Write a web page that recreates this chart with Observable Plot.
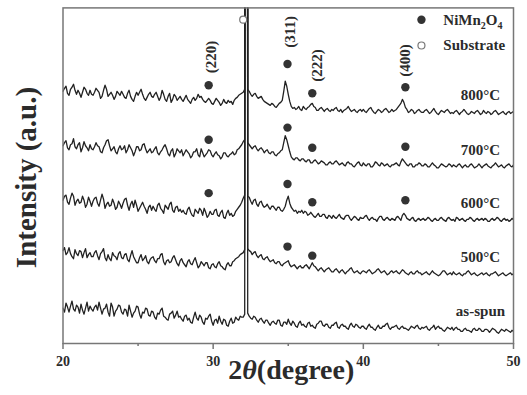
<!DOCTYPE html>
<html><head><meta charset="utf-8">
<script src="https://cdn.jsdelivr.net/npm/d3@7"></script>
<script src="https://cdn.jsdelivr.net/npm/@observablehq/plot@0.6"></script>
<style>
body{margin:0;background:#fff;}
#chart svg{display:block;}
</style>
</head><body><div id="chart"></div>
<script>
// sampling grid: 2θ from 20 to 50 in steps of 0.1 (301 points)
const twoTheta = d3.range(301).map(i => +(20 + 0.1 * i).toFixed(1));

// intensities (arbitrary units, offset traces); one row = 2 degrees
const asSpun = [
  39,35,44,40,35,41,46,38,36,42, 40,34,43,37,33,39,45,36,41,38,
  36,40,42,37,45,39,33,38,39,43, 35,31,44,40,31,36,38,42,41,35,
  33,38,37,31,42,36,30,34,36,41, 40,33,29,35,34,39,38,32,31,36,
  35,30,28,34,33,37,39,31,30,28, 27,33,34,36,29,32,36,30,31,28,
  26,31,32,27,29,25,24,30,35,29, 27,32,30,25,23,29,28,31,33,26,
  22,27,28,24,31,26,23,28,27,22, 21,26,29,24,25,30,28,27,31,30,
  30,33,3000,34,31,29,28,31,30,27, 25,28,29,26,24,27,27,24,22,25,
  26,24,23,27,27,22,21,25,25,23, 28,24,22,26,24,21,20,24,26,22,
  23,21,20,24,25,21,22,20,19,23, 24,26,26,22,21,23,23,20,19,22,
  22,24,25,20,19,22,23,21,21,19, 18,22,24,21,20,23,22,20,19,21,
  21,19,18,21,23,20,20,18,17,20, 22,19,19,21,21,23,24,20,18,20,
  20,21,22,19,18,20,21,19,19,18, 17,19,21,20,19,21,22,19,18,20,
  19,20,21,18,17,19,20,22,18,20, 21,19,19,17,16,18,20,19,18,20,
  17,19,20,18,18,16,16,18,19,17, 17,16,15,18,19,17,17,19,18,16,
  16,18,18,17,15,17,19,18,17,15, 14,16,18,17,16,18,17,16,15,17,
  16];
const t500 = [
  96,99,92,94,99,93,90,88,97,93, 91,96,95,89,94,98,89,92,94,90,
  90,94,96,91,87,93,95,98,89,86, 92,88,86,94,91,90,87,93,95,89,
  88,92,93,87,85,91,96,90,87,84, 84,89,92,86,88,91,85,83,87,89,
  90,86,84,88,88,92,93,85,82,86, 87,84,85,89,91,87,83,81,86,88,
  84,82,80,85,87,83,82,86,89,84, 79,81,85,83,81,84,84,79,78,82,
  83,80,79,83,85,81,80,78,77,82, 84,81,81,85,86,88,89,90,92,93,
  94,97,3000,98,96,95,92,94,95,91, 89,91,92,88,87,89,90,87,85,86,
  87,84,83,85,85,82,81,83,84,85, 86,82,80,81,82,80,78,80,81,79,
  79,81,82,80,78,81,84,81,80,78, 76,78,79,77,75,77,78,79,77,75,
  75,77,78,76,74,76,77,75,73,75, 76,78,79,76,74,75,76,74,73,75,
  76,75,74,76,77,75,73,74,75,77, 78,76,74,75,76,74,72,73,75,76,
  74,75,76,74,73,75,77,76,74,73, 72,74,75,73,73,75,76,74,74,72,
  73,74,75,73,72,74,76,74,73,72, 71,72,74,76,76,74,72,73,74,72,
  75,73,72,73,74,72,71,73,73,75, 76,74,72,73,74,72,71,72,73,74,
  72,73,74,72,71,73,73,74,75,73, 71,72,73,74,72,71,72,73,74,72,
  73];
const t600 = [
  146,150,151,144,142,148,153,150,141,145, 147,143,144,150,146,139,142,149,145,140,
  145,148,149,143,140,146,152,147,138,142, 144,140,141,147,143,137,139,145,142,138,
  143,147,148,141,136,142,145,139,146,141, 135,138,141,144,140,137,133,139,141,136,
  140,137,135,141,143,138,136,133,141,139, 137,142,144,136,134,139,140,135,137,134,
  136,133,132,137,139,134,131,130,137,135, 133,138,136,131,138,134,129,131,135,132,
  132,136,137,131,130,134,136,129,128,133, 136,131,133,130,131,135,137,139,141,144,
  148,151,3000,150,149,145,142,146,147,142, 140,144,145,141,139,140,142,139,137,140,
  140,138,136,139,139,136,135,137,140,146, 150,143,139,137,135,136,133,135,134,136,
  133,135,134,131,132,134,132,130,129,131, 133,130,130,132,132,129,128,131,130,128,
  131,129,128,130,132,129,128,127,130,131, 131,128,126,128,130,129,127,126,129,128,
  128,130,131,128,126,128,129,127,127,125, 128,130,130,127,126,128,129,127,126,128,
  127,126,129,130,128,126,131,133,131,128, 127,126,128,129,126,125,127,128,126,127,
  128,126,127,129,128,126,125,127,128,126, 126,128,129,127,126,125,128,129,127,126,
  127,125,129,128,126,127,128,126,125,127, 127,129,128,126,125,127,128,126,127,128,
  126,128,127,125,125,127,128,126,127,129, 128,126,125,127,128,126,127,125,126,128,
  127];
const t700 = [
  200,203,205,198,196,201,202,207,199,197, 201,203,194,198,204,200,198,195,201,197,
  196,199,203,200,199,194,193,198,201,205, 206,200,195,197,199,194,192,197,200,196,
  197,200,193,196,201,198,195,190,194,199, 199,195,196,201,202,197,193,195,197,193,
  194,197,199,193,191,194,196,199,201,197, 192,190,195,197,189,192,197,195,193,196,
  190,193,196,194,192,188,190,194,194,197, 191,189,197,193,189,191,193,196,195,191,
  189,192,194,191,190,187,189,193,193,190, 189,191,192,194,191,192,196,197,199,201,
  204,206,3000,203,201,199,197,199,200,197, 195,197,198,196,193,195,196,193,192,194,
  194,191,190,192,193,195,196,203,210,206, 200,194,189,187,186,188,188,186,185,187,
  187,185,184,186,186,183,183,185,186,184, 182,183,185,184,183,181,181,183,184,182,
  182,184,185,183,181,182,183,181,180,183, 184,182,182,180,179,181,183,184,181,180,
  183,181,180,182,182,179,179,181,184,183, 181,180,183,182,180,181,182,180,179,181,
  181,182,183,181,180,184,187,185,183,181, 180,182,182,179,179,181,181,183,182,180,
  180,182,181,179,179,181,183,181,180,178, 178,180,182,181,180,179,180,182,181,179,
  181,180,179,181,182,180,178,180,181,179, 179,181,182,180,178,179,180,182,180,178,
  180,181,182,180,179,178,180,181,183,181, 179,180,181,179,178,180,181,182,180,179,
  181];
const t800 = [
  254,257,259,252,250,256,258,261,255,251, 255,252,248,253,258,256,252,250,255,251,
  250,253,257,255,253,247,249,255,260,256, 249,251,253,250,246,249,254,252,250,254,
  251,248,247,252,255,249,246,244,249,253, 250,253,256,251,247,245,248,251,253,249,
  248,251,253,249,245,248,255,251,246,244, 249,252,243,246,251,249,245,247,249,246,
  244,247,250,246,244,242,246,248,245,247, 251,248,249,246,244,243,245,247,245,242,
  241,244,247,245,243,240,242,246,243,242, 245,243,244,241,245,247,248,250,251,252,
  253,256,3000,256,254,251,249,251,252,249, 247,248,249,246,244,243,242,241,240,242,
  241,239,238,240,242,243,245,254,264,259, 251,244,239,237,238,236,237,239,236,235,
  239,237,236,238,239,241,242,239,238,235, 235,237,238,236,234,236,237,235,234,236,
  235,237,238,235,234,236,233,235,236,237, 239,236,234,235,236,234,233,235,236,234,
  236,234,233,235,237,238,235,233,232,234, 236,235,233,234,236,237,235,233,234,236,
  234,235,236,238,240,242,246,243,238,236, 233,234,236,235,232,233,235,236,234,233,
  233,235,236,234,232,233,235,237,234,232, 231,233,235,234,233,235,236,234,232,233,
  232,234,235,233,231,233,234,236,234,232, 231,232,234,233,232,234,235,233,231,232,
  235,233,232,234,233,231,232,234,235,233, 231,232,233,234,232,231,233,234,232,233,
  234];

const traces = [asSpun, t500, t600, t700, t800];

// NiMn2O4 reflections
const hkl = ["(220)", "(311)", "(222)", "(400)"];
const hklTheta = [29.7, 34.95, 36.6, 42.8];
const hklLabelTheta = [29.85, 35.15, 36.95, 42.8];
const hklLabelY = [288, 313, 279.5, 284.5];
const dot800 = [260, 281, 252, 258];
const dot700 = [206, 218, 198, 199];
const dot600 = [153, 162, 144, 146];
const dot500 = [null, 100, 91, null];

const sampleLabels = ["800°C", "700°C", "600°C", "500°C", "as-spun"];
const sampleLabelY = [250, 196, 142.7, 89, 35.6];

const substrateTheta = 32.0, substrateY = 325;
const legendLabels = ["NiMn₂O₄", "Substrate"];
const legendY = [325, 299.4];

const xTicks = [20, 30, 40, 50];
const xMinorTicks = [25, 35, 45];

// build tables
const lineData = traces.flatMap((vals, k) => vals.map((v, i) => ({x: twoTheta[i], y: v, s: k})));
const dots = [dot800, dot700, dot600, dot500].flatMap(arr =>
  arr.map((v, i) => ({x: hklTheta[i], y: v})).filter(d => d.y != null));
const hklTable = hkl.map((t, i) => ({t, x: hklLabelTheta[i], y: hklLabelY[i]}));
const sampleTable = sampleLabels.map((t, i) => ({t, y: sampleLabelY[i]}));

const serif = "'Liberation Serif', 'Times New Roman', serif";
const ink = "#2b2b2b";

const plot = Plot.plot({
  width: 527, height: 395,
  marginLeft: 62.5, marginRight: 14, marginTop: 7.4, marginBottom: 52,
  style: {fontFamily: serif, fontWeight: "bold", fontSize: "14px", color: ink, background: "white"},
  x: {domain: [20, 50]},
  y: {domain: [3.9, 336.7], axis: null},
  marks: [
    Plot.line(lineData, {x: "x", y: "y", z: "s", stroke: "#222", strokeWidth: 1.3, clip: true}),
    Plot.frame({stroke: "#777", strokeWidth: 1.5}),
    Plot.axisX(xTicks, {tickSize: 6, tickPadding: 7, stroke: "#777", strokeWidth: 1.5, label: null, fontSize: 14}),
    Plot.axisX(xMinorTicks, {tickSize: 3, stroke: "#777", strokeWidth: 1.5, tickFormat: () => "", label: null}),
    Plot.dot(dots, {x: "x", y: "y", r: 4.2, fill: "#333"}),
    Plot.dot([0], {x: () => substrateTheta, y: () => substrateY, r: 3.5, stroke: "#777", fill: "white", strokeWidth: 1.2}),
    Plot.text(hklTable, {x: "x", y: "y", text: "t", rotate: -90, fontSize: 15, fill: ink, lineAnchor: "middle", textAnchor: "middle"}),
    Plot.text(sampleTable, {x: () => 47.8, y: "y", text: "t", fontSize: 15, fill: ink}),
    Plot.dot(legendY.slice(0, 1), {x: () => 43.87, y: d => d, r: 4.2, fill: "#333"}),
    Plot.dot(legendY.slice(1), {x: () => 43.87, y: d => d, r: 3.5, stroke: "#777", fill: "white", strokeWidth: 1.2}),
    Plot.text(legendLabels, {x: () => 45.33, y: (d, i) => legendY[i], text: d => d, textAnchor: "start", fontSize: 15, fill: ink}),
    Plot.text(["2θ(degree)"], {frameAnchor: "bottom", dx: 3, dy: 35, fontSize: 28, fill: ink}),
    Plot.text(["Intensity (a.u.)"], {x: () => 17.57, y: () => 168.5, rotate: -90, lineAnchor: "middle", textAnchor: "middle", fontSize: 29, fill: ink})
  ]
});

// rich text: italic θ, subscripts
d3.select(plot).selectAll("text").each(function() {
  const el = d3.select(this);
  const s = this.textContent;
  if (s === "2θ(degree)") {
    el.text(null);
    el.append("tspan").text("2");
    el.append("tspan").attr("font-style", "italic").text("θ");
    el.append("tspan").text("(degree)");
  } else if (s === "NiMn₂O₄") {
    el.text(null);
    el.append("tspan").text("NiMn");
    el.append("tspan").attr("font-size", "10").attr("dy", "4").text("2");
    el.append("tspan").attr("dy", "-4").text("O");
    el.append("tspan").attr("font-size", "10").attr("dy", "4").text("4");
  }
});

document.getElementById("chart").appendChild(plot);
</script>
</body></html>
